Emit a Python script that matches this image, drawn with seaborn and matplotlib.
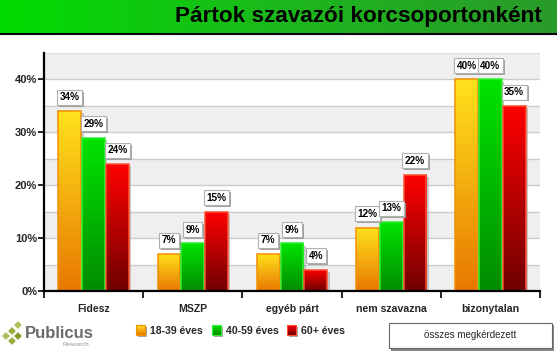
import numpy as np
import pandas as pd
import matplotlib
matplotlib.use("Agg")
import matplotlib.pyplot as plt
import matplotlib.patheffects as pe
import seaborn as sns
from matplotlib.patches import Rectangle, Polygon
from matplotlib.colors import LinearSegmentedColormap

categories = ["Fidesz", "MSZP", "egyéb párt", "nem szavazna", "bizonytalan"]
groups = ["18-39 éves", "40-59 éves", "60+ éves"]
v_young = [34, 7, 7, 12, 40]
v_mid = [29, 9, 9, 13, 40]
v_old = [24, 15, 4, 22, 35]
yticks = [0, 10, 20, 30, 40]
title = "Pártok szavazói korcsoportonként"
button_text = "összes megkérdezett"

sns.set_theme(style="white")
plt.rcParams["font.family"] = ["Liberation Sans", "DejaVu Sans"]

df = pd.DataFrame({
    "cat": categories * 3,
    "group": [groups[0]] * 5 + [groups[1]] * 5 + [groups[2]] * 5,
    "val": v_young + v_mid + v_old,
})

W, H = 557, 356
fig = plt.figure(figsize=(W / 100, H / 100), dpi=100)

# title bar
tax = fig.add_axes([0, (H - 33) / H, 1, 33 / H])
grad = np.linspace(0, 1, 256).reshape(1, -1)
tcmap = LinearSegmentedColormap.from_list("t", ["#00dc00", "#1cb81c", "#2a9a2a"])
tax.imshow(grad, aspect="auto", cmap=tcmap, extent=[0, 1, 0, 1])
tax.set_xlim(0, 1); tax.set_ylim(0, 1)
tax.axis("off")
tax.text(0.972, 0.5, title, ha="right", va="center", fontsize=16.2, fontweight="bold", color="black")
fig.add_artist(plt.Line2D([0, 1], [(H - 33.5) / H] * 2, color="black", lw=1.5))

ax = fig.add_axes([44 / W, (H - 291) / H, 496 / W, 238 / H])
palette = {groups[0]: "#f5b000", groups[1]: "#00c000", groups[2]: "#d00000"}
sns.barplot(data=df, x="cat", y="val", hue="group", hue_order=groups, order=categories,
            palette=palette, width=0.72, ax=ax, legend=False, zorder=3)
ax.set_ylim(0, 45)
ax.set_xlim(-0.5, 4.5)

# background bands
for i, y0 in enumerate(np.arange(0, 45, 5)):
    ax.axhspan(y0, y0 + 5, color="#efefef" if i % 2 == 0 else "white", zorder=0, lw=0)
    ax.axhline(y0, color="#cccccc", lw=1, zorder=1)
ax.axhline(45, color="#dddddd", lw=1, zorder=1)

grads = [("#ffe21c", "#e87800", "#f09000"),
         ("#00e400", "#008c00", "#30f030"),
         ("#ff0000", "#700000", "#ff5030")]
vals_by_group = [v_young, v_mid, v_old]
for gi, cont in enumerate(ax.containers):
    top_c, bot_c, edge_c = grads[gi]
    cm = LinearSegmentedColormap.from_list("g%d" % gi, [bot_c, top_c])
    for bar, v in zip(cont.patches, vals_by_group[gi]):
        x0 = bar.get_x(); w = bar.get_width(); h = bar.get_height()
        x0 += 0.006; w -= 0.012
        ax.add_patch(Rectangle((x0 + 0.025, 0), w, h - 0.4, color="#999999", alpha=0.5, zorder=2, lw=0))
        img = ax.imshow(np.linspace(0, 1, 128).reshape(-1, 1), aspect="auto", cmap=cm,
                        origin="lower", extent=[x0, x0 + w, 0, h], zorder=3.5)
        bar.set_visible(False)
        clip = Rectangle((x0, 0), w, h, transform=ax.transData)
        img.set_clip_path(clip)
        ax.add_patch(Rectangle((x0, 0), w, h, fill=False, ec=edge_c, lw=1.1, zorder=4))
        cx = x0 + w / 2
        t = ax.annotate(f"{v}%", (cx, h), xytext=(0, 10), textcoords="offset points",
                        ha="center", va="center", fontsize=7.2, fontweight="bold", color="black",
                        bbox=dict(boxstyle="square,pad=0.25", fc="white", ec="#b0b0b0", lw=0.8),
                        zorder=6, annotation_clip=False)
        t.get_bbox_patch().set_path_effects([
            pe.SimplePatchShadow(offset=(1.4, -1.4), shadow_rgbFace="#9a9a9a", alpha=0.9),
            pe.Normal()])
ax.set_ylim(0, 45)
ax.set_xlim(-0.5, 4.5)

for s in ["top", "right"]:
    ax.spines[s].set_visible(False)
for s in ["left", "bottom"]:
    ax.spines[s].set_color("black"); ax.spines[s].set_linewidth(1.6); ax.spines[s].set_zorder(7)
ax.set_yticks(yticks)
ax.set_yticklabels([f"{t}%" for t in yticks], fontsize=8, fontweight="bold")
ax.tick_params(axis="y", left=True, length=4, width=1.2, color="black", pad=1)
ax.set_xticks(range(5))
ax.set_xticklabels(categories, fontsize=7.6, fontweight="bold")
ax.tick_params(axis="x", bottom=False, pad=3)
ax.set_xticks(np.arange(-0.5, 5, 1), minor=True)
ax.tick_params(axis="x", which="minor", bottom=True, length=5, width=1.2, color="black", direction="out")
ax.set_xlabel(""); ax.set_ylabel("")
ax.grid(False)

# legend / footer
leg_items = [(136, groups[0], grads[0]), (212, groups[1], grads[1]), (287, groups[2], grads[2])]
lax = fig.add_axes([0, 0, 1, 1], zorder=20)
lax.set_xlim(0, W); lax.set_ylim(H, 0); lax.axis("off")
lax.patch.set_alpha(0)
for x, lab, (tc, bc, ec) in leg_items:
    lax.add_patch(Rectangle((x + 1.5, 326.5), 9, 10, color="#aaaaaa", lw=0))
    cm = LinearSegmentedColormap.from_list("l", [tc, bc])
    lax.imshow(np.linspace(0, 1, 32).reshape(-1, 1), aspect="auto", cmap=cm,
               extent=[x, x + 9, 335, 325], zorder=3)
    lax.add_patch(Rectangle((x, 325), 9, 10, fill=False, ec=ec, lw=0.8, zorder=4))
    lax.text(x + 14, 331, lab, ha="left", va="center", fontsize=7.6, fontweight="bold")
lax.set_xlim(0, W); lax.set_ylim(H, 0)

# button
lax.add_patch(Rectangle((391, 325), 163, 26, color="#888888", lw=0))
lax.add_patch(Rectangle((389, 323), 163, 25, fc="white", ec="#666666", lw=0.8))
lax.text(470, 335.5, button_text, ha="center", va="center", fontsize=7)

# logo
def diamond(cx, cy, r, col):
    lax.add_patch(Polygon([(cx, cy - r), (cx + r, cy), (cx, cy + r), (cx - r, cy)], closed=True,
                          fc=col, ec="white", lw=0.6))
diamond(12, 331, 4.5, "#9aab3a")
diamond(18, 336, 4.5, "#8a9a2a")
diamond(12, 341, 4.5, "#9aab3a")
diamond(18, 325, 4.5, "#b0bf5a")
diamond(6, 336, 4.5, "#b0bf5a")
lax.text(25, 333, "Publicus", ha="left", va="center", fontsize=12, fontweight="bold", color="#6a6a6a")
lax.text(89, 345, "Research", ha="right", va="center", fontsize=4.5, color="#999999")

fig.savefig("out.png", dpi=100)
